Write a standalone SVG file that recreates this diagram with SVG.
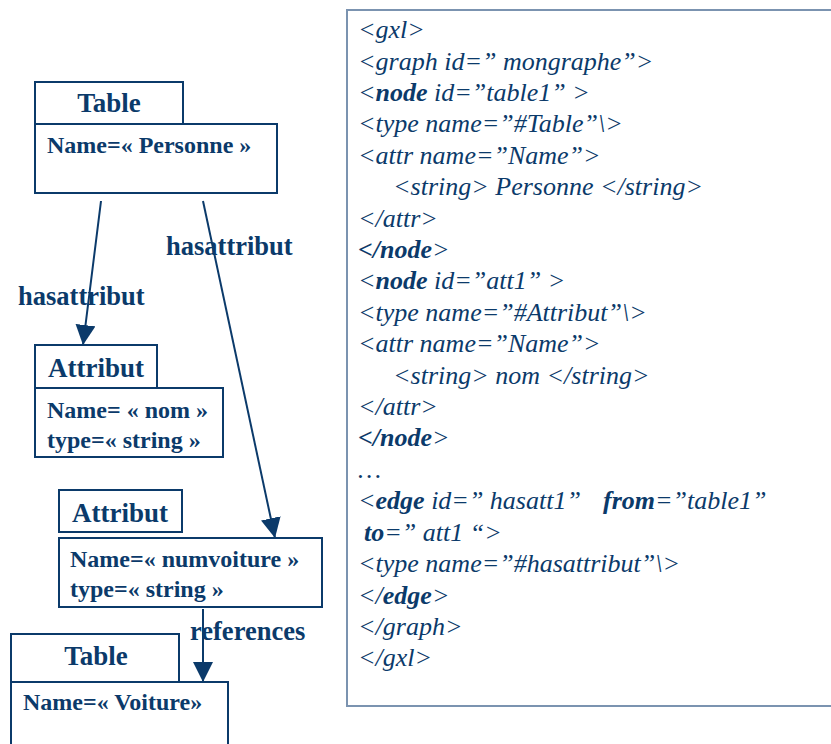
<svg xmlns="http://www.w3.org/2000/svg" width="831" height="744" viewBox="0 0 831 744">
<style>
.bx{fill:#fff;stroke:#0b3a6a;stroke-width:2}
.hd{font-family:"Liberation Serif",serif;font-weight:bold;font-size:27px;fill:#0b3a6a;text-anchor:middle}
.ct{font-family:"Liberation Serif",serif;font-weight:bold;font-size:24px;fill:#0b3a6a}
.lb{font-family:"Liberation Serif",serif;font-weight:bold;font-size:26.5px;fill:#0b3a6a}
.cd{font-family:"Liberation Serif",serif;font-style:italic;font-size:26px;fill:#0b3a6a}
.b{font-weight:bold}
.ln{stroke:#0b3a6a;stroke-width:2;fill:none}
</style>
<defs>
<marker id="ah" viewBox="0 0 20 20" refX="20" refY="10" markerWidth="20" markerHeight="20" markerUnits="userSpaceOnUse" orient="auto">
<path d="M0,0 L20,10 L0,20 Z" fill="#0b3a6a"/>
</marker>
</defs>
<rect width="831" height="744" fill="#fff"/>

<g id="code">
<rect x="347" y="10" width="500" height="696" fill="#fff" stroke="#7b93b0" stroke-width="2"/>
<text class="cd" x="358" y="38">&lt;gxl&gt;</text>
<text class="cd" x="358" y="70">&lt;graph id=” mongraphe”&gt;</text>
<text class="cd" x="358" y="101">&lt;<tspan class="b">node</tspan> id=”table1” &gt;</text>
<text class="cd" x="358" y="132">&lt;type name=”#Table”\&gt;</text>
<text class="cd" x="358" y="164">&lt;attr name=”Name”&gt;</text>
<text class="cd" x="393" y="195">&lt;string&gt; Personne &lt;/string&gt;</text>
<text class="cd" x="358" y="227">&lt;/attr&gt;</text>
<text class="cd" x="358" y="258"><tspan class="b">&lt;/node</tspan>&gt;</text>
<text class="cd" x="358" y="289">&lt;<tspan class="b">node</tspan> id=”att1” &gt;</text>
<text class="cd" x="358" y="321">&lt;type name=”#Attribut”\&gt;</text>
<text class="cd" x="358" y="352">&lt;attr name=”Name”&gt;</text>
<text class="cd" x="393" y="384">&lt;string&gt; nom &lt;/string&gt;</text>
<text class="cd" x="358" y="415">&lt;/attr&gt;</text>
<text class="cd" x="358" y="446"><tspan class="b">&lt;/node</tspan>&gt;</text>
<text class="cd" x="358" y="478">…</text>
<text class="cd" x="358" y="509">&lt;<tspan class="b">edge</tspan> id=” hasatt1” <tspan x="603" class="b">from</tspan>=”table1”</text>
<text class="cd" x="364" y="541"><tspan class="b">to</tspan>=” att1 “&gt;</text>
<text class="cd" x="358" y="572">&lt;type name=”#hasattribut”\&gt;</text>
<text class="cd" x="358" y="604">&lt;/<tspan class="b">edge</tspan>&gt;</text>
<text class="cd" x="358" y="635">&lt;/graph&gt;</text>
<text class="cd" x="358" y="666">&lt;/gxl&gt;</text>
</g>

<g id="connectors">
<line class="ln" x1="101" y1="201" x2="83" y2="345" marker-end="url(#ah)"/>
<line class="ln" x1="203" y1="201" x2="275" y2="538" marker-end="url(#ah)"/>
<line class="ln" x1="203" y1="609" x2="203" y2="682" marker-end="url(#ah)"/>
<text class="lb" x="18" y="305">hasattribut</text>
<text class="lb" x="166" y="255">hasattribut</text>
<text class="lb" x="190" y="640">references</text>
</g>

<g id="table1">
<rect class="bx" x="35" y="82" width="148" height="42"/>
<rect class="bx" x="35" y="124" width="242" height="69"/>
<text class="hd" x="109" y="112">Table</text>
<text class="ct" x="47" y="153">Name=« Personne »</text>
</g>

<g id="attribut1">
<rect class="bx" x="35" y="345" width="122" height="43"/>
<rect class="bx" x="35" y="388" width="188" height="69"/>
<text class="hd" x="96" y="377">Attribut</text>
<text class="ct" x="47" y="418">Name= « nom »</text>
<text class="ct" x="47" y="448">type=« string »</text>
</g>

<g id="attribut2">
<rect class="bx" x="59" y="490" width="123" height="42"/>
<rect class="bx" x="59" y="538" width="263" height="69"/>
<text class="hd" x="120" y="522">Attribut</text>
<text class="ct" x="70" y="567">Name=« numvoiture »</text>
<text class="ct" x="70" y="597">type=« string »</text>
</g>

<g id="table2">
<rect class="bx" x="11" y="634" width="168" height="48"/>
<rect class="bx" x="11" y="682" width="217" height="80"/>
<text class="hd" x="96" y="665">Table</text>
<text class="ct" x="23" y="710">Name=« Voiture»</text>
</g>
</svg>
